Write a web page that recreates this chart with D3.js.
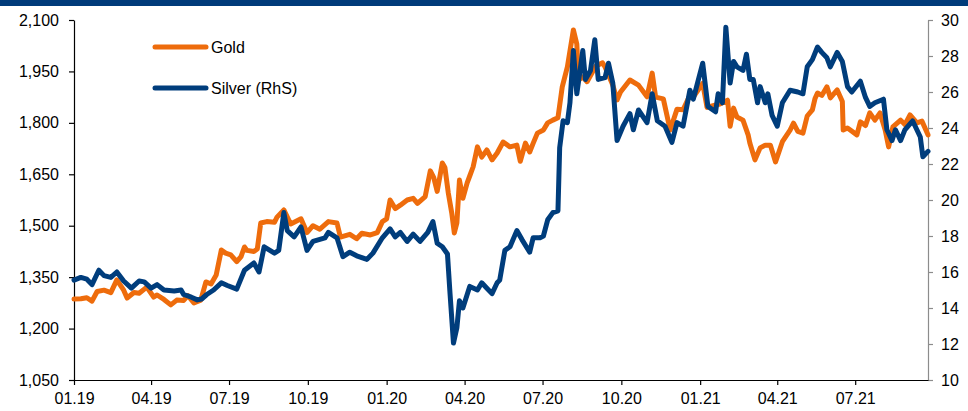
<!DOCTYPE html>
<html>
<head>
<meta charset="utf-8">
<script src="https://cdn.jsdelivr.net/npm/d3@7"></script>
<style>
  body { margin: 0; background: #fff; }
  text { font-family: "Liberation Sans", Arial, sans-serif; }
</style>
</head>
<body>
<script>
// values (USD/oz)
const goldSeries = [
  ['2019-01-01', 1286], ['2019-01-09', 1287], ['2019-01-16', 1290], ['2019-01-22', 1280],
  ['2019-01-28', 1308], ['2019-02-05', 1312], ['2019-02-13', 1305], ['2019-02-20', 1342],
  ['2019-02-28', 1312], ['2019-03-04', 1289], ['2019-03-12', 1305], ['2019-03-18', 1303],
  ['2019-03-27', 1321], ['2019-04-04', 1292], ['2019-04-08', 1298], ['2019-04-16', 1285],
  ['2019-04-24', 1269], ['2019-05-01', 1283], ['2019-05-09', 1282], ['2019-05-14', 1296],
  ['2019-05-21', 1275], ['2019-05-29', 1283], ['2019-06-04', 1336], ['2019-06-10', 1330],
  ['2019-06-16', 1356], ['2019-06-22', 1429], ['2019-06-27', 1420], ['2019-07-03', 1415],
  ['2019-07-10', 1395], ['2019-07-15', 1410], ['2019-07-19', 1438], ['2019-07-22', 1428],
  ['2019-07-30', 1425], ['2019-08-03', 1432], ['2019-08-07', 1508], ['2019-08-14', 1512],
  ['2019-08-23', 1510], ['2019-08-26', 1525], ['2019-09-03', 1546], ['2019-09-11', 1505],
  ['2019-09-23', 1520], ['2019-09-30', 1480], ['2019-10-07', 1500], ['2019-10-15', 1490],
  ['2019-10-25', 1512], ['2019-11-04', 1508], ['2019-11-08', 1467], ['2019-11-19', 1475],
  ['2019-11-27', 1462], ['2019-12-03', 1478], ['2019-12-13', 1473], ['2019-12-21', 1480],
  ['2019-12-27', 1512], ['2020-01-01', 1520], ['2020-01-05', 1575], ['2020-01-11', 1550],
  ['2020-01-17', 1560], ['2020-01-25', 1575], ['2020-02-01', 1580], ['2020-02-06', 1565],
  ['2020-02-15', 1585], ['2020-02-21', 1660], ['2020-02-25', 1640], ['2020-02-29', 1600],
  ['2020-03-06', 1683], ['2020-03-09', 1670], ['2020-03-13', 1595], ['2020-03-17', 1537],
  ['2020-03-20', 1479], ['2020-03-23', 1508], ['2020-03-26', 1633], ['2020-03-30', 1580],
  ['2020-04-04', 1625], ['2020-04-07', 1645], ['2020-04-11', 1672], ['2020-04-16', 1730],
  ['2020-04-21', 1700], ['2020-04-27', 1721], ['2020-05-03', 1692], ['2020-05-09', 1712],
  ['2020-05-16', 1744], ['2020-05-24', 1730], ['2020-06-01', 1735], ['2020-06-05', 1688],
  ['2020-06-11', 1741], ['2020-06-16', 1715], ['2020-06-20', 1740], ['2020-06-25', 1770],
  ['2020-07-02', 1779], ['2020-07-07', 1800], ['2020-07-13', 1808], ['2020-07-19', 1815],
  ['2020-07-24', 1905], ['2020-07-30', 1963], ['2020-08-06', 2071], ['2020-08-10', 2030],
  ['2020-08-12', 1925], ['2020-08-17', 1934], ['2020-08-22', 1920], ['2020-09-01', 1965],
  ['2020-09-09', 1975], ['2020-09-12', 1963], ['2020-09-21', 1910], ['2020-09-26', 1867],
  ['2020-09-30', 1890], ['2020-10-11', 1925], ['2020-10-21', 1910], ['2020-10-31', 1876],
  ['2020-11-06', 1945], ['2020-11-10', 1875], ['2020-11-19', 1870], ['2020-11-27', 1779],
  ['2020-12-05', 1840], ['2020-12-12', 1838], ['2020-12-20', 1880], ['2020-12-24', 1875],
  ['2021-01-04', 1915], ['2021-01-09', 1845], ['2021-01-16', 1850], ['2021-01-24', 1855],
  ['2021-02-02', 1866], ['2021-02-05', 1790], ['2021-02-09', 1843], ['2021-02-13', 1817],
  ['2021-02-20', 1808], ['2021-02-26', 1765], ['2021-02-28', 1741], ['2021-03-06', 1692],
  ['2021-03-12', 1727], ['2021-03-18', 1735], ['2021-03-24', 1735], ['2021-03-30', 1686],
  ['2021-04-07', 1745], ['2021-04-16', 1779], ['2021-04-20', 1799], ['2021-04-25', 1775],
  ['2021-05-01', 1770], ['2021-05-06', 1820], ['2021-05-12', 1838], ['2021-05-15', 1870],
  ['2021-05-18', 1887], ['2021-05-23', 1880], ['2021-05-29', 1905], ['2021-06-02', 1873],
  ['2021-06-10', 1896], ['2021-06-16', 1862], ['2021-06-17', 1779], ['2021-06-22', 1785],
  ['2021-07-03', 1765], ['2021-07-07', 1803], ['2021-07-13', 1792], ['2021-07-18', 1829],
  ['2021-07-24', 1808], ['2021-07-30', 1829], ['2021-08-05', 1779], ['2021-08-09', 1730],
  ['2021-08-14', 1788], ['2021-08-23', 1808], ['2021-08-28', 1795], ['2021-09-03', 1823],
  ['2021-09-11', 1800], ['2021-09-17', 1805], ['2021-09-24', 1765]
];

const silverSeries = [
  ['2019-01-01', 15.55], ['2019-01-09', 15.7], ['2019-01-16', 15.6], ['2019-01-22', 15.3],
  ['2019-01-30', 16.1], ['2019-02-05', 15.8], ['2019-02-13', 15.7], ['2019-02-20', 16.0],
  ['2019-02-28', 15.5], ['2019-03-09', 15.1], ['2019-03-18', 15.5], ['2019-03-24', 15.45],
  ['2019-04-01', 15.1], ['2019-04-08', 15.3], ['2019-04-16', 15.0], ['2019-04-28', 14.95],
  ['2019-05-06', 15.0], ['2019-05-09', 14.75], ['2019-05-18', 14.6], ['2019-05-25', 14.45],
  ['2019-05-30', 14.5], ['2019-06-05', 14.75], ['2019-06-13', 15.0], ['2019-06-22', 15.4],
  ['2019-06-29', 15.25], ['2019-07-10', 15.05], ['2019-07-19', 16.1], ['2019-07-30', 16.5],
  ['2019-08-05', 16.0], ['2019-08-11', 17.4], ['2019-08-23', 17.05], ['2019-08-28', 17.2],
  ['2019-09-03', 19.3], ['2019-09-07', 18.3], ['2019-09-15', 17.95], ['2019-09-23', 18.5],
  ['2019-09-30', 17.2], ['2019-10-07', 17.7], ['2019-10-21', 17.9], ['2019-10-25', 18.2],
  ['2019-11-04', 17.9], ['2019-11-11', 16.85], ['2019-11-19', 17.1], ['2019-11-27', 16.9],
  ['2019-12-09', 16.7], ['2019-12-16', 17.05], ['2019-12-27', 17.9], ['2020-01-05', 18.4],
  ['2020-01-11', 17.95], ['2020-01-17', 18.2], ['2020-01-25', 17.7], ['2020-02-01', 18.1],
  ['2020-02-09', 17.7], ['2020-02-18', 18.2], ['2020-02-24', 18.8], ['2020-02-29', 17.6],
  ['2020-03-06', 17.4], ['2020-03-12', 17.0], ['2020-03-15', 14.8], ['2020-03-19', 12.05],
  ['2020-03-23', 12.9], ['2020-03-26', 14.4], ['2020-03-30', 14.0], ['2020-04-07', 15.2],
  ['2020-04-16', 15.0], ['2020-04-21', 15.4], ['2020-04-27', 15.1], ['2020-05-03', 14.8],
  ['2020-05-09', 15.4], ['2020-05-12', 15.55], ['2020-05-18', 17.2], ['2020-05-24', 17.4],
  ['2020-06-01', 18.3], ['2020-06-07', 17.8], ['2020-06-16', 17.1], ['2020-06-20', 17.9],
  ['2020-06-28', 17.9], ['2020-07-02', 18.0], ['2020-07-07', 18.9], ['2020-07-13', 19.3],
  ['2020-07-19', 19.4], ['2020-07-21', 22.9], ['2020-07-25', 24.4], ['2020-07-30', 24.3],
  ['2020-08-02', 25.4], ['2020-08-06', 28.3], ['2020-08-10', 25.9], ['2020-08-17', 28.3],
  ['2020-08-20', 26.7], ['2020-08-26', 27.2], ['2020-08-31', 28.9], ['2020-09-04', 26.7],
  ['2020-09-12', 26.8], ['2020-09-16', 27.6], ['2020-09-21', 26.5], ['2020-09-26', 23.3],
  ['2020-10-03', 24.1], ['2020-10-11', 24.8], ['2020-10-15', 23.9], ['2020-10-21', 25.0],
  ['2020-10-31', 24.3], ['2020-11-06', 25.9], ['2020-11-12', 24.4], ['2020-11-21', 24.1],
  ['2020-11-29', 23.2], ['2020-12-05', 24.3], ['2020-12-12', 24.1], ['2020-12-20', 26.1],
  ['2020-12-24', 25.6], ['2021-01-04', 27.6], ['2021-01-10', 25.2], ['2021-01-19', 24.9],
  ['2021-01-22', 25.9], ['2021-01-27', 25.4], ['2021-01-31', 29.6], ['2021-02-05', 26.5],
  ['2021-02-09', 27.7], ['2021-02-13', 27.4], ['2021-02-20', 27.2], ['2021-02-24', 28.1],
  ['2021-02-28', 26.7], ['2021-03-04', 26.7], ['2021-03-09', 25.4], ['2021-03-12', 26.3],
  ['2021-03-18', 25.4], ['2021-03-21', 25.9], ['2021-03-26', 24.7], ['2021-04-01', 24.1],
  ['2021-04-07', 25.4], ['2021-04-16', 26.1], ['2021-04-25', 26.0], ['2021-05-01', 25.9],
  ['2021-05-06', 27.4], ['2021-05-12', 27.8], ['2021-05-18', 28.5], ['2021-05-23', 28.2],
  ['2021-05-29', 27.9], ['2021-06-02', 27.4], ['2021-06-10', 28.2], ['2021-06-16', 27.7],
  ['2021-06-22', 26.3], ['2021-06-27', 26.0], ['2021-07-07', 26.6], ['2021-07-13', 25.7],
  ['2021-07-18', 25.2], ['2021-07-24', 25.4], ['2021-08-03', 25.6], ['2021-08-07', 23.9],
  ['2021-08-13', 23.3], ['2021-08-17', 23.9], ['2021-08-23', 23.3], ['2021-08-28', 23.9],
  ['2021-09-06', 24.4], ['2021-09-11', 23.9], ['2021-09-15', 23.5], ['2021-09-18', 22.4],
  ['2021-09-24', 22.7]
];

const goldTicks = [1050, 1200, 1350, 1500, 1650, 1800, 1950, 2100];
const silverTicks = [10, 12, 14, 16, 18, 20, 22, 24, 26, 28, 30];
const dateTicks = ['2019-01-01', '2019-04-01', '2019-07-01', '2019-10-01', '2020-01-01',
  '2020-04-01', '2020-07-01', '2020-10-01', '2021-01-01', '2021-04-01', '2021-07-01'];
const seriesNames = ['Gold', 'Silver (RhS)'];

const width = 968;
const height = 411;
const margin = { left: 74, right: 40, top: 20, bottom: 31 };
const goldColor = '#ee6c0c';
const silverColor = '#003d7c';

const parse = d3.timeParse('%Y-%m-%d');

const svg = d3.select('body').append('svg')
  .attr('width', width)
  .attr('height', height);

svg.append('rect')
  .attr('x', 0).attr('y', 0)
  .attr('width', width).attr('height', 6)
  .attr('fill', '#003b7a');

const xScale = d3.scaleTime()
  .domain([parse('2019-01-01'), parse('2021-09-24')])
  .range([margin.left, width - margin.right]);

const yGold = d3.scaleLinear()
  .domain([1050, 2100])
  .range([height - margin.bottom, margin.top]);

const ySilver = d3.scaleLinear()
  .domain([10, 30])
  .range([height - margin.bottom, margin.top]);

drawAxes();
drawLine(goldSeries, yGold, goldColor);
drawLine(silverSeries, ySilver, silverColor);
drawLegend();

function drawLine(series, yScale, color) {
  const line = d3.line()
    .x(d => xScale(parse(d[0])))
    .y(d => yScale(d[1]));
  svg.append('path')
    .datum(series)
    .attr('fill', 'none')
    .attr('stroke', color)
    .attr('stroke-width', 5)
    .attr('stroke-linejoin', 'round')
    .attr('stroke-linecap', 'round')
    .attr('d', line);
}

function drawAxes() {
  const left = svg.append('g')
    .attr('transform', `translate(${margin.left}, 0)`)
    .call(d3.axisLeft(yGold)
      .tickValues(goldTicks)
      .tickFormat(d3.format(','))
      .tickSize(5)
      .tickSizeOuter(0)
      .tickPadding(10));
  styleAxis(left, '#000');

  const right = svg.append('g')
    .attr('transform', `translate(${width - margin.right}, 0)`)
    .call(d3.axisRight(ySilver)
      .tickValues(silverTicks)
      .tickSize(5)
      .tickSizeOuter(0)
      .tickPadding(8));
  styleAxis(right, '#8c8c8c');

  const bottom = svg.append('g')
    .attr('transform', `translate(0, ${height - margin.bottom})`)
    .call(d3.axisBottom(xScale)
      .tickValues(dateTicks.map(parse))
      .tickFormat(d3.timeFormat('%m.%y'))
      .tickSize(5)
      .tickSizeOuter(0)
      .tickPadding(8));
  styleAxis(bottom, '#000');
}

function styleAxis(g, color) {
  g.select('.domain').attr('stroke', color).attr('stroke-width', 1.2);
  g.selectAll('.tick line').attr('stroke', color).attr('stroke-width', 1.2);
  g.selectAll('.tick text')
    .attr('fill', '#000')
    .style('font-size', '16px')
    .style('font-family', '"Liberation Sans", Arial, sans-serif');
}

function drawLegend() {
  const colors = [goldColor, silverColor];
  const rows = [47, 88];
  seriesNames.forEach((name, i) => {
    svg.append('line')
      .attr('x1', 155).attr('x2', 206)
      .attr('y1', rows[i]).attr('y2', rows[i])
      .attr('stroke', colors[i])
      .attr('stroke-width', 5)
      .attr('stroke-linecap', 'round');
    svg.append('text')
      .attr('x', 211)
      .attr('y', rows[i])
      .attr('dy', '0.35em')
      .style('font-size', '16px')
      .text(name);
  });
}
</script>
</body>
</html>
